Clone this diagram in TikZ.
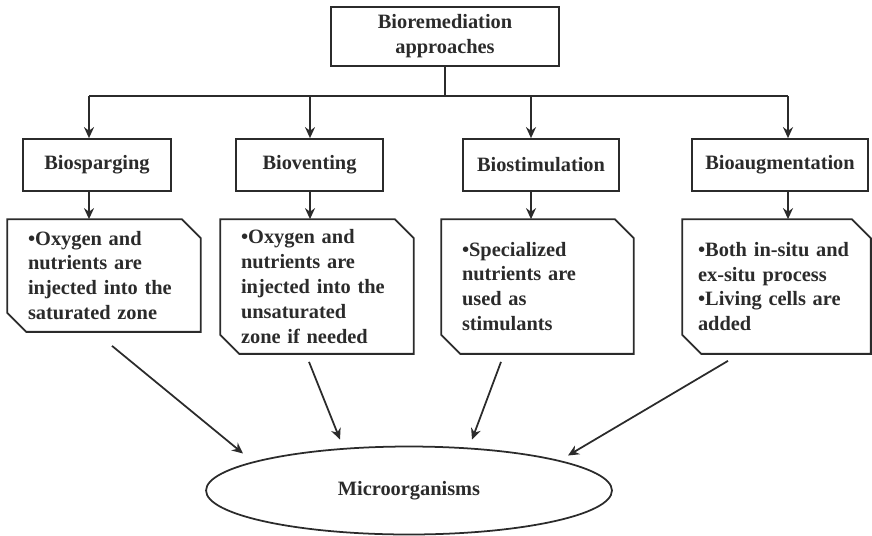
\documentclass[tikz,border=0pt]{standalone}
\usepackage{fontspec}
\setmainfont{Liberation Serif}
\usetikzlibrary{arrows.meta, positioning, calc, shapes.geometric}
\definecolor{ink}{HTML}{2B2B2B}

\begin{document}
\begin{tikzpicture}[x=0.02cm, y=-0.02cm, >={Stealth[length=2.2mm, width=2mm]},
  line width=1pt, draw=ink,
  box/.style={draw=ink, line width=1pt, inner sep=0pt, align=center,
    text=ink, font=\fontsize{11.6}{14.2}\selectfont\bfseries},
  note/.style={inner xsep=0.4cm, inner ysep=0pt, align=left,
    text=ink, font=\fontsize{11.6}{14.2}\selectfont\bfseries},
  link/.style={->, ink, line width=1pt}]

\useasboundingbox (0,0) rectangle (872,535);

% Top box
\node[box, minimum width=4.56cm, minimum height=1.18cm] (root) at (445,36.5)
  {Bioremediation\\approaches};

% Approaches
\node[box, minimum width=2.96cm, minimum height=1.04cm] (spar) at (97,165) {Biosparging};
\node[box, minimum width=2.94cm, minimum height=1.04cm] (vent) at (309.5,165) {Bioventing};
\node[box, minimum width=3.12cm, minimum height=1.04cm] (stim) at (541,165) {Biostimulation};
\node[box, minimum width=3.52cm, minimum height=1.04cm] (aug) at (780,165) {Bioaugmentation};

% Notes (snipped boxes drawn below)
\node[note, text width=3.04cm, minimum height=2.22cm] (sparnote) at (104,275.5)
  {\textbullet Oxygen and\\nutrients are\\injected into the\\saturated zone};
\node[note, text width=3.04cm, minimum height=2.66cm] (ventnote) at (317,286.5)
  {\textbullet Oxygen and\\nutrients are\\injected into the\\unsaturated\\zone if needed};
\node[note, text width=3.02cm, minimum height=2.66cm] (stimnote) at (537.5,286.5)
  {\textbullet Specialized\\nutrients are\\used as\\stimulants};
\node[note, inner xsep=0.3cm, text width=3.14cm, minimum height=2.66cm] (augnote) at (776.5,286.5)
  {\textbullet Both in-situ and\\ex-situ process\\\textbullet Living cells are\\added};

\foreach \n in {sparnote, ventnote, stimnote, augnote}
  \draw[ink, line width=1pt] (\n.north west) -- ($(\n.north east)+(-19,0)$)
    -- ($(\n.north east)+(0,19)$) -- (\n.south east)
    -- ($(\n.south west)+(19,0)$) -- ($(\n.south west)+(0,-19)$) -- cycle;

% Ellipse
\node[ellipse, draw=ink, line width=1pt, minimum width=8.12cm, minimum height=1.76cm,
  inner sep=0pt, text=ink, font=\fontsize{11.6}{14.2}\selectfont\bfseries]
  (micro) at (409,490.5) {Microorganisms};

% Tree connectors
\coordinate (b1) at (89,96);
\coordinate (b2) at (310,96);
\coordinate (b3) at (531,96);
\coordinate (b4) at (788,96);
\draw[ink] (root.south) -- (root.south |- b1);
\draw[ink] (b1) -- (b4);
\draw[link] (b1) -- (b1 |- spar.north);
\draw[link] (b2) -- (b2 |- vent.north);
\draw[link] (b3) -- (b3 |- stim.north);
\draw[link] (b4) -- (b4 |- aug.north);
\draw[link] (b1 |- spar.south) -- (b1 |- sparnote.north);
\draw[link] (b2 |- vent.south) -- (b2 |- ventnote.north);
\draw[link] (b3 |- stim.south) -- (b3 |- stimnote.north);
\draw[link] (b4 |- aug.south) -- (b4 |- augnote.north);

% Into the ellipse
\draw[link] ($(sparnote.south)+(8,14)$) -- ($(micro.center)+(-166,-37)$);
\draw[link] ($(ventnote.south)+(-8,8)$) -- ($(micro.center)+(-69,-51)$);
\draw[link] ($(stimnote.south)+(-36.5,8)$) -- ($(micro.center)+(63,-51)$);
\draw[link] ($(augnote.south)+(-48.5,7)$) -- ($(micro.center)+(159,-35)$);

\end{tikzpicture}
\end{document}
